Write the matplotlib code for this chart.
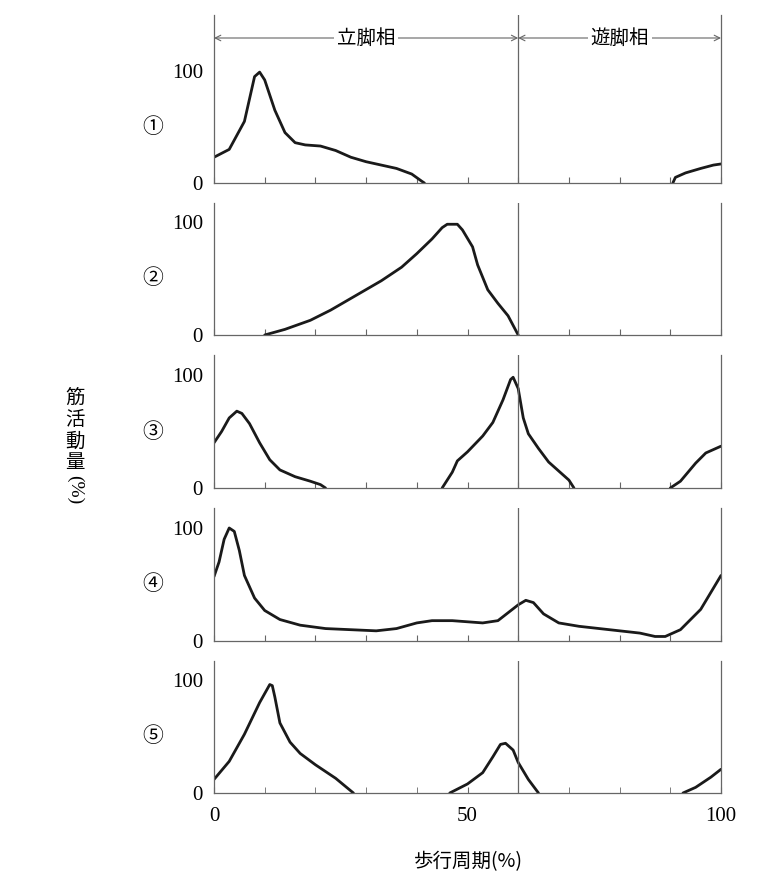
import matplotlib
matplotlib.use("Agg")
import matplotlib.pyplot as plt

plt.rcParams['font.family'] = ['Liberation Serif', 'Noto Sans CJK JP', 'DejaVu Sans']

# muscle activity curves (% of gait cycle, % activity); each panel may have several segments
p1 = [
    ([0, 3, 6, 8, 9, 10, 12, 14, 16, 18, 21, 24, 27, 30, 33, 36, 39, 41, 41.5],
     [23, 30, 55, 95, 99, 92, 65, 45, 36, 34, 33, 29, 23, 19, 16, 13, 8, 1.5, 0]),
    ([90.5, 91, 93, 96, 98.5, 100], [0, 5, 9, 13, 16, 17]),
]
p2 = [
    ([10, 14, 19, 23, 28, 33, 37, 40, 43, 45, 46, 48, 49, 51, 52, 54, 56, 58, 60],
     [0, 5, 13, 22, 35, 48, 60, 72, 85, 95, 98, 98, 93, 78, 62, 40, 28, 17, 0]),
]
p3 = [
    ([0, 1.5, 3, 4.5, 5.5, 7, 9, 11, 13, 16, 19, 21, 22],
     [40, 50, 62, 68, 66, 57, 40, 25, 16, 10, 6, 3, 0]),
    ([45, 47, 48, 50, 53, 55, 57, 58.5, 59, 60, 61, 62, 64, 66, 68, 70, 71],
     [0, 14, 24, 32, 46, 58, 78, 96, 98, 88, 62, 48, 35, 23, 15, 7, 0]),
    ([90, 92, 95, 97, 100], [0, 6, 22, 31, 37]),
]
p4 = [
    ([0, 1, 2, 3, 4, 5, 6, 8, 10, 13, 17, 22, 27, 32, 36, 40, 43, 47, 50, 53, 56, 58, 60,
      61.5, 63, 65, 68, 72, 78, 84, 87, 89, 92, 96, 100],
     [57, 70, 90, 100, 97, 80, 58, 38, 27, 19, 14, 11, 10, 9, 11, 16, 18, 18, 17, 16, 18,
      25, 32, 36, 34, 24, 16, 13, 10, 7, 4, 4, 10, 28, 58]),
]
p5 = [
    ([0, 3, 6, 9, 10.5, 11, 11.5, 12, 13, 15, 17, 20, 24, 27.5],
     [12, 28, 52, 80, 92, 96, 95, 85, 62, 45, 35, 25, 13, 0]),
    ([46.5, 50, 53, 55, 56.5, 57.5, 59, 60, 62, 63.5, 64],
     [0, 8, 18, 32, 43, 44, 38, 27, 12, 3, 0]),
    ([92.5, 95, 98, 100], [0, 5, 14, 21]),
]
panels = [p1, p2, p3, p4, p5]
labels = ["①", "②", "③", "④", "⑤"]
# (top px, bottom px) of each panel
boxes = [(15, 183), (203, 335), (355, 488), (508, 641), (661, 793)]

W, H = 768, 892
fig = plt.figure(figsize=(W / 100, H / 100), dpi=100)
gray = "#666666"

for i, (segs, lab, (t, b)) in enumerate(zip(panels, labels, boxes)):
    ax = fig.add_axes([214 / W, 1 - b / H, 507 / W, (b - t) / H])
    unit = (b - (b - 112 if i == 0 else b - 113)) / 100.0
    ymax = (b - t) / (1.12 if i == 0 else 1.13)
    for xs, ys in segs:
        ax.plot(xs, ys, color="#1a1a1a", lw=2.0, solid_capstyle="round")
    ax.set_xlim(0, 100)
    ax.set_ylim(0, ymax)
    ax.axvline(60, color=gray, lw=0.9)
    for s in ["top"]:
        ax.spines[s].set_visible(False)
    for s in ["left", "bottom", "right"]:
        ax.spines[s].set_color(gray)
        ax.spines[s].set_linewidth(0.9)
    ax.set_yticks([0, 100])
    ax.set_xticks(range(0, 101, 10))
    ax.tick_params(axis="x", direction="in", length=4, color=gray, labelbottom=False)
    ax.tick_params(axis="y", direction="in", length=0, labelsize=15, pad=8)
    ax.text(-0.12, 0.5 * 100 / ymax, lab, transform=ax.transAxes, fontsize=15,
            ha="center", va="center", family=["Noto Sans CJK JP", "DejaVu Sans"])
    if i == 0:
        yh = (183 - 38) / 1.12
        for x0, x1, txt in [(0, 60, "立脚相"), (60, 100, "遊脚相")]:
            ax.annotate("", xy=(x0, yh), xytext=(x1, yh),
                        arrowprops=dict(arrowstyle="<->", color=gray, lw=0.8,
                                        shrinkA=0, shrinkB=0))
            ax.text((x0 + x1) / 2, yh, txt, ha="center", va="center", fontsize=14,
                    family=["Noto Sans CJK JP"], bbox=dict(fc="white", ec="none", pad=2))
    if i == 4:
        ax.set_xticks([0, 50, 100], minor=False)
        ax.set_xticks(range(0, 101, 10), minor=True)
        ax.tick_params(axis="x", which="both", direction="in", length=4, color=gray,
                       labelbottom=True, labelsize=15, pad=10)

fig.text(75 / W, 1 - 430 / H, "筋\n活\n動\n量", ha="center", va="center", fontsize=14,
         family=["Noto Sans CJK JP"], linespacing=1.05)
fig.text(75 / W, 1 - 490 / H, "(%)", ha="center", va="center", fontsize=14, rotation=-90)
fig.text(468 / W, 1 - 862 / H, "歩行周期(%)", ha="center", va="center", fontsize=14,
         family=["Noto Sans CJK JP"])

fig.savefig("out.png", dpi=100)
